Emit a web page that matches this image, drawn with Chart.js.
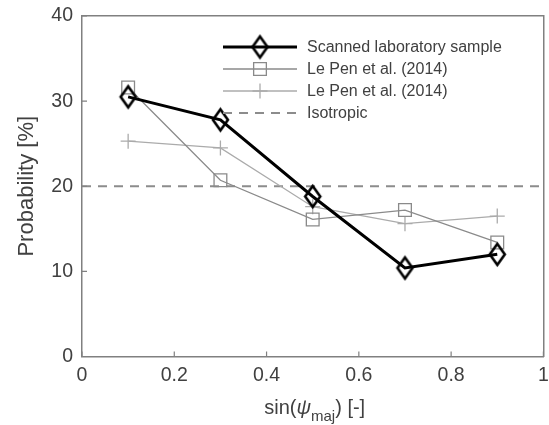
<!DOCTYPE html>
<html>
<head>
<meta charset="utf-8">
<script src="https://cdn.jsdelivr.net/npm/chart.js@4"></script>
<style>
  html, body { margin: 0; padding: 0; background: #fff; overflow: hidden; }
  #wrap { width: 549px; height: 425px; overflow: hidden; }
</style>
</head>
<body>
<div id="wrap"><canvas id="myChart" width="555" height="425"></canvas></div>
<script>
var sinPsi = [0.1, 0.3, 0.5, 0.7, 0.9];
var scanned = [30.5, 27.8, 18.8, 10.4, 12.0];
var lePenSquare = [31.6, 20.7, 16.1, 17.2, 13.4];
var lePenPlus = [25.3, 24.5, 17.6, 15.6, 16.5];
var isoX = [0, 1];
var isoY = [20, 20];
var xTicks = [0, 0.2, 0.4, 0.6, 0.8, 1];
var yTicks = [0, 10, 20, 30, 40];

var textColor = '#404040';
var axisColor = '#808080';
var fontFamily = 'Arial, "Liberation Sans", sans-serif';

function pts(xs, ys) {
  return xs.map(function (x, i) { return { x: x, y: ys[i] }; });
}

// tall hollow diamond marker (matlab 'd')
function diamondMarker(hw, hh, lw, color) {
  var c = document.createElement('canvas');
  c.width = Math.ceil(2 * hw + 2 * lw);
  c.height = Math.ceil(2 * hh + 2 * lw);
  var g = c.getContext('2d');
  var cx = c.width / 2, cy = c.height / 2;
  g.strokeStyle = color;
  g.lineWidth = lw;
  g.beginPath();
  g.moveTo(cx, cy - hh);
  g.lineTo(cx + hw, cy);
  g.lineTo(cx, cy + hh);
  g.lineTo(cx - hw, cy);
  g.closePath();
  g.stroke();
  return c;
}
var diamond = diamondMarker(7.5, 10.5, 2.6, '#000000');

function noPad(s) {
  s.paddingLeft = 0; s.paddingRight = 0; s.paddingTop = 0; s.paddingBottom = 0;
}

// inward tick marks, MATLAB style
var innerTicks = {
  id: 'innerTicks',
  afterDraw: function (chart) {
    var ctx = chart.ctx, a = chart.chartArea;
    var sx = chart.scales.x, sy = chart.scales.y;
    ctx.save();
    ctx.strokeStyle = axisColor;
    ctx.lineWidth = 1.2;
    ctx.beginPath();
    xTicks.forEach(function (v) {
      var px = sx.getPixelForValue(v);
      ctx.moveTo(px, a.bottom); ctx.lineTo(px, a.bottom - 5);
    });
    yTicks.forEach(function (v) {
      var py = sy.getPixelForValue(v);
      ctx.moveTo(a.left, py); ctx.lineTo(a.left + 5, py);
    });
    ctx.stroke();
    ctx.restore();
  }
};

// x-axis title with subscript
var xTitle = {
  id: 'xTitle',
  afterDraw: function (chart) {
    var ctx = chart.ctx, a = chart.chartArea;
    var cx = (a.left + a.right) / 2 + 2, y = 414;
    var parts = [
      { t: 'sin(', f: '20px ' + fontFamily, dy: 0 },
      { t: 'ψ', f: 'italic 20px ' + fontFamily, dy: 0 },
      { t: 'maj', f: '15px ' + fontFamily, dy: 7 },
      { t: ') [-]', f: '20px ' + fontFamily, dy: 0 }
    ];
    ctx.save();
    ctx.fillStyle = textColor;
    ctx.textBaseline = 'alphabetic';
    var w = 0;
    parts.forEach(function (p) { ctx.font = p.f; w += ctx.measureText(p.t).width; });
    var x = cx - w / 2;
    parts.forEach(function (p) {
      ctx.font = p.f;
      ctx.fillText(p.t, x, y + p.dy);
      x += ctx.measureText(p.t).width;
    });
    ctx.restore();
  }
};

// boxless legend with line + marker samples
var lineLegend = {
  id: 'lineLegend',
  afterDraw: function (chart) {
    var ctx = chart.ctx;
    var x0 = 223, x1 = 297, tx = 307, y0 = 47, dy = 22;
    ctx.save();
    chart.data.datasets.forEach(function (ds, i) {
      var y = y0 + i * dy;
      ctx.strokeStyle = ds.borderColor;
      ctx.lineWidth = ds.borderWidth;
      ctx.setLineDash(ds.borderDash || []);
      ctx.beginPath();
      ctx.moveTo(x0, y); ctx.lineTo(x1, y);
      ctx.stroke();
      ctx.setLineDash([]);
      if (ds.pointStyle && ds.pointRadius > 0) {
        ctx.strokeStyle = ds.pointBorderColor;
        ctx.lineWidth = ds.pointBorderWidth;
        ctx.fillStyle = 'rgba(0,0,0,0)';
        Chart.helpers.drawPoint(ctx, {
          pointStyle: ds.pointStyle,
          radius: ds.pointRadius,
          borderWidth: ds.pointBorderWidth,
          rotation: 0
        }, (x0 + x1) / 2, y);
      }
      ctx.fillStyle = textColor;
      ctx.font = '16px ' + fontFamily;
      ctx.textBaseline = 'middle';
      ctx.fillText(ds.label, tx, y + 1);
    });
    ctx.restore();
  }
};

var config = {
  type: 'line',
  data: {
    datasets: [{
      label: 'Scanned laboratory sample',
      data: pts(sinPsi, scanned),
      borderColor: '#000000',
      borderWidth: 3,
      pointStyle: diamond,
      pointRadius: 9,
      pointBorderWidth: 2.6,
      pointBorderColor: '#000000',
      pointBackgroundColor: 'rgba(0,0,0,0)',
      order: 0
    }, {
      label: 'Le Pen et al. (2014)',
      data: pts(sinPsi, lePenSquare),
      borderColor: '#8a8a8a',
      borderWidth: 1.3,
      pointStyle: 'rect',
      pointRadius: 9,
      pointBorderWidth: 1.3,
      pointBorderColor: '#8a8a8a',
      pointBackgroundColor: 'rgba(0,0,0,0)',
      order: 1
    }, {
      label: 'Le Pen et al. (2014)',
      data: pts(sinPsi, lePenPlus),
      borderColor: '#ababab',
      borderWidth: 1.3,
      pointStyle: 'cross',
      pointRadius: 7.5,
      pointBorderWidth: 1.3,
      pointBorderColor: '#ababab',
      pointBackgroundColor: 'rgba(0,0,0,0)',
      order: 2
    }, {
      label: 'Isotropic',
      data: pts(isoX, isoY),
      borderColor: '#8c8c8c',
      borderWidth: 2,
      borderDash: [9, 7],
      pointRadius: 0,
      order: 3
    }]
  },
  options: {
    responsive: false,
    animation: false,
    layout: { padding: { top: 16, right: 5, left: 0, bottom: 0 } },
    plugins: { legend: { display: false }, tooltip: { enabled: false } },
    scales: {
      x: {
        type: 'linear',
        min: 0, max: 1,
        afterFit: function (s) { s.height = 68.5; noPad(s); },
        afterBuildTicks: function (s) { s.ticks = xTicks.map(function (v) { return { value: v }; }); },
        grid: { display: false, drawTicks: false },
        border: { color: axisColor, width: 1.5 },
        ticks: {
          color: textColor, font: { size: 19.5, family: fontFamily }, padding: 7, maxRotation: 0,
          callback: function (v) { return String(Math.round(v * 10) / 10); }
        }
      },
      y: {
        type: 'linear',
        min: 0, max: 40,
        afterFit: function (s) { s.width = 82; noPad(s); },
        afterBuildTicks: function (s) { s.ticks = yTicks.map(function (v) { return { value: v }; }); },
        grid: { display: false, drawTicks: false },
        border: { color: axisColor, width: 1.5 },
        ticks: { color: textColor, font: { size: 19.5, family: fontFamily }, padding: 9 },
        title: { display: true, text: 'Probability [%]', color: textColor, font: { size: 22, family: fontFamily }, padding: { top: 14, bottom: 0 } }
      },
      x2: {
        type: 'linear', position: 'top', min: 0, max: 1,
        afterFit: function (s) { s.height = 0; noPad(s); },
        grid: { display: false, drawTicks: false },
        border: { color: axisColor, width: 1.5 },
        ticks: { display: false }
      },
      y2: {
        type: 'linear', position: 'right', min: 0, max: 40,
        afterFit: function (s) { s.width = 0; noPad(s); },
        grid: { display: false, drawTicks: false },
        border: { color: axisColor, width: 1.5 },
        ticks: { display: false }
      }
    }
  },
  plugins: [innerTicks, xTitle, lineLegend]
};

var myChart = new Chart(document.getElementById('myChart').getContext('2d'), config);
</script>
</body>
</html>
